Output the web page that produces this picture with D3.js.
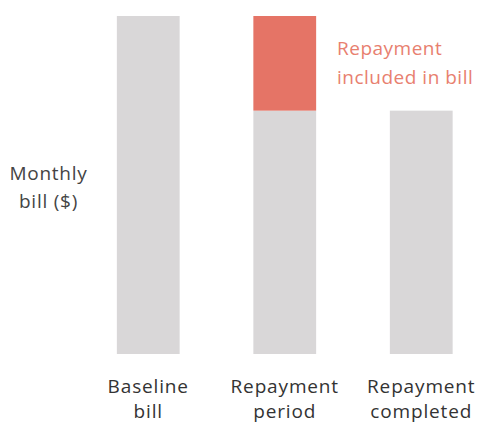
<!DOCTYPE html>
<html>
<head>
<meta charset="utf-8">
<script src="https://cdn.jsdelivr.net/npm/d3@7"></script>
<style>
  body { margin: 0; background: #fff; }
  text { font-family: "Open Sans", Lato, sans-serif; }
</style>
</head>
<body>
<script>
// base data
const categories = ['baseline', 'repaying', 'completed'];
const categoryLabels = [['Baseline', 'bill'], ['Repayment', 'period'], ['Repayment', 'completed']];
const baseBill = [100, 72, 72];
const repayment = [0, 28, 0];
const yLabel = ['Monthly', 'bill ($)'];
const noteLabel = ['Repayment', 'included in bill'];

// constants
const width = 477;
const height = 423;

const svg = d3.select('body').append('svg')
  .attr('width', width).attr('height', height);

// scales
const xScale = d3.scaleBand()
  .domain(categories)
  .range([80, 489.5])
  .paddingInner(0.54)
  .paddingOuter(0.27);

const yScale = d3.scaleLinear()
  .domain([0, 100])
  .range([354, 16]);

const rows = categories.map((c, i) => ({ cat: c, base: baseBill[i], extra: repayment[i], label: categoryLabels[i] }));

// gray base bars
svg.append('g').selectAll('rect').data(rows).enter().append('rect')
  .attr('x', d => xScale(d.cat))
  .attr('width', xScale.bandwidth())
  .attr('y', d => yScale(d.base))
  .attr('height', d => yScale(0) - yScale(d.base))
  .attr('fill', '#d9d7d8');

// repayment on top
svg.append('g').selectAll('rect').data(rows.filter(d => d.extra > 0)).enter().append('rect')
  .attr('x', d => xScale(d.cat))
  .attr('width', xScale.bandwidth())
  .attr('y', d => yScale(d.base + d.extra))
  .attr('height', d => yScale(d.base) - yScale(d.base + d.extra))
  .attr('fill', '#e57466');

// category labels (x axis, no line)
const xAxis = svg.append('g').attr('class', 'xAxis');
xAxis.selectAll('text').data(rows).enter().append('text')
  .attr('x', d => xScale(d.cat) + xScale.bandwidth() / 2)
  .attr('y', 393)
  .attr('text-anchor', 'middle')
  .attr('font-size', 19)
  .attr('letter-spacing', 0.85)
  .attr('fill', '#333')
  .selectAll('tspan').data(d => d.label).enter().append('tspan')
  .attr('x', function () { return this.parentNode.getAttribute('x'); })
  .attr('dy', (d, i) => i === 0 ? 0 : 25)
  .text(d => d);

// y label
svg.append('text')
  .attr('x', 48.5).attr('y', 180)
  .attr('text-anchor', 'middle')
  .attr('font-size', 19)
  .attr('letter-spacing', 0.75)
  .attr('fill', '#444')
  .selectAll('tspan').data(yLabel).enter().append('tspan')
  .attr('x', 48.5)
  .attr('dy', (d, i) => i === 0 ? 0 : 28)
  .text(d => d);

// note next to the red segment
svg.append('text')
  .attr('x', 337).attr('y', 55)
  .attr('font-size', 19)
  .attr('letter-spacing', 0.5)
  .attr('fill', '#e8806f')
  .selectAll('tspan').data(noteLabel).enter().append('tspan')
  .attr('x', 337)
  .attr('dy', (d, i) => i === 0 ? 0 : 29)
  .text(d => d);
</script>
</body>
</html>
